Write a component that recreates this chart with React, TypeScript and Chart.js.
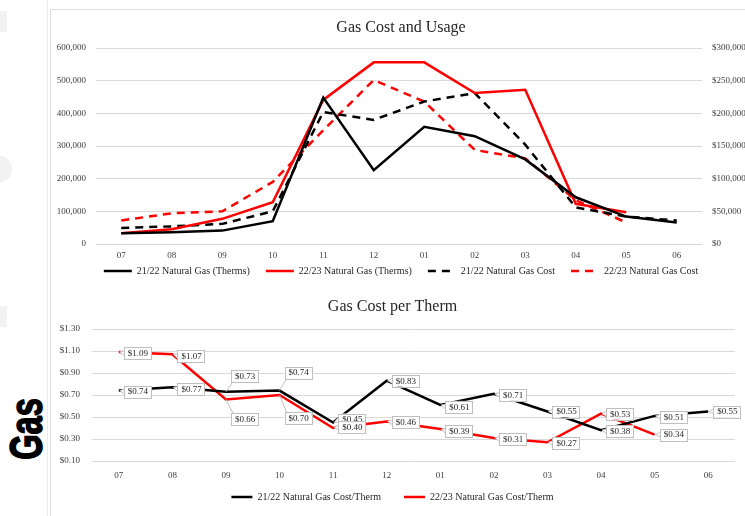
import React, { useEffect, useRef } from 'react';
import { Chart, registerables } from 'chart.js';
Chart.register(...registerables);

// ---------- data ----------
const months = ['07', '08', '09', '10', '11', '12', '01', '02', '03', '04', '05', '06'];

const therms2122 = [33000, 36000, 41000, 70000, 448000, 226000, 359000, 330000, 259000, 143000, 84000, 66000];
const therms2223 = [33000, 45000, 77000, 128000, 441000, 556000, 556000, 462000, 472000, 123000, 97000, null];
const cost2122 = [24600, 27000, 30800, 50000, 202000, 190000, 218000, 231000, 152000, 56000, 42000, 36000];
const cost2223 = [36000, 47000, 50000, 95000, 174000, 251000, 218000, 144000, 131000, 67000, 33000, null];

const perTherm2122 = [0.74, 0.77, 0.73, 0.74, 0.45, 0.83, 0.61, 0.71, 0.55, 0.38, 0.51, 0.55];
const perTherm2223 = [1.09, 1.07, 0.66, 0.70, 0.40, 0.46, 0.39, 0.31, 0.27, 0.53, 0.34, null];

const usageTicks = [0, 100000, 200000, 300000, 400000, 500000, 600000];
const costTicks = [0, 50000, 100000, 150000, 200000, 250000, 300000];
const perThermTicks = [0.1, 0.3, 0.5, 0.7, 0.9, 1.1, 1.3];

// label placement (vertical nudges for the data-label boxes, px)
const labelNudge2122 = [1, 2, -16, -18, -3, 0, 2, 1, 0, 1, 1, 0];
const labelNudge2223 = [1, 2, 20, 23, -1, 1, 2, 1, 1, 0, 0, 0];

// ---------- styles ----------
const SERIF = '"Liberation Serif", "Times New Roman", serif';
const TICK_COLOR = '#404040';
const TEXT_COLOR = '#262626';
const GRID = '#d9d9d9';

function legendGen(lineW: number) {
  return (chart: any) => {
    const items = (Chart.defaults.plugins.legend.labels as any).generateLabels(chart);
    items.forEach((it: any) => {
      const ds: any = chart.data.datasets[it.datasetIndex];
      it.lineWidth = lineW;
      it.lineDash = ds.borderDash || [];
      it.strokeStyle = ds.borderColor;
      it.fillStyle = ds.borderColor;
      it.pointStyle = 'line';
      it.fontColor = TEXT_COLOR;
    });
    return items;
  };
}

function TopChart() {
  const ref = useRef<HTMLCanvasElement>(null);
  useEffect(() => {
    const chart = new Chart(ref.current as HTMLCanvasElement, {
      type: 'line',
      data: {
        labels: months,
        datasets: [
          { label: '21/22 Natural Gas (Therms)', data: therms2122, borderColor: '#000000', backgroundColor: '#000000', borderWidth: 2.5, pointRadius: 0, tension: 0, yAxisID: 'y' },
          { label: '22/23 Natural Gas (Therms)', data: therms2223, borderColor: '#ff0000', backgroundColor: '#ff0000', borderWidth: 2.5, pointRadius: 0, tension: 0, yAxisID: 'y' },
          { label: '21/22 Natural Gas Cost', data: cost2122, borderColor: '#000000', backgroundColor: '#000000', borderWidth: 2.5, borderDash: [8, 6], pointRadius: 0, tension: 0, yAxisID: 'y1' },
          { label: '22/23 Natural Gas Cost', data: cost2223, borderColor: '#ff0000', backgroundColor: '#ff0000', borderWidth: 2.5, borderDash: [8, 6], pointRadius: 0, tension: 0, yAxisID: 'y1' },
        ] as any,
      },
      options: {
        responsive: false,
        animation: false,
        layout: { padding: { top: 0, bottom: 4, left: 0, right: 0 } },
        plugins: {
          title: {
            display: true,
            text: 'Gas Cost and Usage',
            color: TEXT_COLOR,
            font: { family: SERIF, size: 16, weight: 'normal' },
            padding: { top: 9.4, bottom: 10.4 },
          },
          legend: {
            position: 'bottom',
            labels: {
              usePointStyle: true,
              pointStyle: 'line',
              pointStyleWidth: 28,
              boxWidth: 28,
              padding: 16,
              color: TEXT_COLOR,
              font: { family: SERIF, size: 10 },
              generateLabels: legendGen(2.5),
            },
          },
          tooltip: { enabled: false },
        },
        scales: {
          x: {
            offset: true,
            grid: { display: false, drawTicks: false, offset: true },
            border: { display: false },
            ticks: { mirror: true, padding: -17.4, color: TICK_COLOR, font: { family: SERIF, size: 9 } },
            afterFit: (s: any) => { s.height = 6; },
          },
          y: {
            position: 'left',
            min: usageTicks[0],
            max: usageTicks[usageTicks.length - 1],
            afterBuildTicks: (s: any) => { s.ticks = usageTicks.map((v) => ({ value: v })); },
            ticks: {
              padding: 10,
              color: TICK_COLOR,
              font: { family: SERIF, size: 9 },
              callback: (v: any) => Number(v).toLocaleString('en-US'),
            },
            grid: { color: GRID, drawTicks: false },
            border: { display: false },
            afterFit: (s: any) => { s.width = 46; },
          },
          y1: {
            position: 'right',
            min: costTicks[0],
            max: costTicks[costTicks.length - 1],
            afterBuildTicks: (s: any) => { s.ticks = costTicks.map((v) => ({ value: v })); },
            ticks: {
              padding: 10,
              color: TICK_COLOR,
              font: { family: SERIF, size: 9 },
              callback: (v: any) => '$' + Number(v).toLocaleString('en-US'),
            },
            grid: { drawOnChartArea: false, drawTicks: false },
            border: { display: false },
            afterFit: (s: any) => { s.width = 50; },
          },
        },
      } as any,
    });
    return () => chart.destroy();
  }, []);
  return <canvas ref={ref} width={702} height={281} style={{ position: 'absolute', left: 50, top: 9 }} />;
}

const boxLabelPlugin = {
  id: 'boxLabels',
  afterDatasetsDraw(chart: any) {
    const ctx = chart.ctx as CanvasRenderingContext2D;
    const nudges = [labelNudge2122, labelNudge2223];
    ctx.save();
    ctx.font = '9px ' + SERIF;
    ctx.textBaseline = 'middle';
    ctx.textAlign = 'center';
    chart.data.datasets.forEach((ds: any, di: number) => {
      const meta = chart.getDatasetMeta(di);
      meta.data.forEach((pt: any, i: number) => {
        const v = ds.data[i];
        if (v == null) return;
        const text = '$' + Number(v).toFixed(2);
        const tw = ctx.measureText(text).width;
        const bw = tw + 7;
        const bh = 12;
        const px = pt.x;
        const py = pt.y;
        const left = px + 5;
        const cy = py + nudges[di][i];
        const top = cy - bh / 2;
        ctx.strokeStyle = '#bfbfbf';
        ctx.lineWidth = 1;
        ctx.fillStyle = '#ffffff';
        if (Math.abs(nudges[di][i]) > 6) {
          const ey = Math.min(Math.max(py, top), top + bh);
          ctx.beginPath();
          ctx.moveTo(px, py);
          ctx.lineTo(left + 2, ey);
          ctx.stroke();
        } else {
          ctx.beginPath();
          ctx.moveTo(left + 0.5, cy - 2.5);
          ctx.lineTo(px + 1, py);
          ctx.lineTo(left + 0.5, cy + 2.5);
          ctx.closePath();
          ctx.fill();
          ctx.stroke();
        }
        ctx.fillRect(left, top, bw, bh);
        ctx.strokeRect(Math.round(left) + 0.5, Math.round(top) + 0.5, Math.round(bw), bh);
        ctx.fillStyle = '#262626';
        ctx.fillText(text, left + bw / 2 + 0.5, cy + 0.5);
      });
    });
    ctx.restore();
  },
};

function BottomChart() {
  const ref = useRef<HTMLCanvasElement>(null);
  useEffect(() => {
    const chart = new Chart(ref.current as HTMLCanvasElement, {
      type: 'line',
      data: {
        labels: months,
        datasets: [
          { label: '21/22 Natural Gas Cost/Therm', data: perTherm2122, borderColor: '#000000', backgroundColor: '#000000', borderWidth: 2.5, pointRadius: 0, tension: 0 },
          { label: '22/23 Natural Gas Cost/Therm', data: perTherm2223, borderColor: '#ff0000', backgroundColor: '#ff0000', borderWidth: 2.5, pointRadius: 0, tension: 0 },
        ] as any,
      },
      options: {
        responsive: false,
        animation: false,
        layout: { padding: { top: 0, bottom: 4, left: 0, right: 13 } },
        plugins: {
          title: {
            display: true,
            text: 'Gas Cost per Therm',
            color: TEXT_COLOR,
            font: { family: SERIF, size: 16, weight: 'normal' },
            padding: { top: 7.4, bottom: 12.4 },
          },
          legend: {
            position: 'bottom',
            labels: {
              usePointStyle: true,
              pointStyle: 'line',
              pointStyleWidth: 21,
              boxWidth: 21,
              padding: 23,
              color: TEXT_COLOR,
              font: { family: SERIF, size: 10 },
              generateLabels: legendGen(2.5),
            },
          },
          tooltip: { enabled: false },
        },
        scales: {
          x: {
            offset: true,
            grid: { display: false, drawTicks: false, offset: true },
            border: { display: false },
            ticks: { mirror: true, padding: -20.4, color: TICK_COLOR, font: { family: SERIF, size: 9 } },
            afterFit: (s: any) => { s.height = 8; },
          },
          y: {
            position: 'left',
            min: perThermTicks[0],
            max: perThermTicks[perThermTicks.length - 1],
            afterBuildTicks: (s: any) => { s.ticks = perThermTicks.map((v) => ({ value: v })); },
            ticks: {
              padding: 12,
              color: TICK_COLOR,
              font: { family: SERIF, size: 9 },
              callback: (v: any) => '$' + Number(v).toFixed(2),
            },
            grid: { color: GRID, drawTicks: false },
            border: { display: false },
            afterFit: (s: any) => { s.width = 42; },
          },
        },
      } as any,
      plugins: [boxLabelPlugin],
    });
    return () => chart.destroy();
  }, []);
  return <canvas ref={ref} width={698} height={226} style={{ position: 'absolute', left: 50, top: 290 }} />;
}

export default function App() {
  return (
    <div style={{ position: 'fixed', left: 0, top: 0, width: 745, height: 516, background: '#ffffff', overflow: 'hidden' }}>
      {/* side decorations */}
      <div style={{ position: 'absolute', left: 0, top: 11, width: 7, height: 21, background: '#f2f2f2' }} />
      <div style={{ position: 'absolute', left: -16, top: 155, width: 28, height: 28, borderRadius: '50%', background: '#f2f2f2' }} />
      <div style={{ position: 'absolute', left: 0, top: 306, width: 7, height: 21, background: '#f2f2f2' }} />
      <div style={{ position: 'absolute', left: 47, top: 0, width: 1, height: 516, background: '#ececec' }} />
      <div style={{ position: 'absolute', left: 50, top: 9, width: 1, height: 507, background: '#dedede' }} />
      <div style={{ position: 'absolute', left: 50, top: 9, width: 695, height: 1, background: '#dedede' }} />
      <div
        style={{
          position: 'absolute',
          left: 26,
          top: 429,
          transform: 'translate(-50%, -50%) rotate(-90deg) scaleX(0.71)',
          fontFamily: '"Liberation Sans", Arial, sans-serif',
          fontWeight: 900,
          fontSize: 46,
          lineHeight: 1,
          color: '#000000',
          WebkitTextStroke: '1.5px #000000',
          whiteSpace: 'nowrap',
        }}
      >
        Gas
      </div>
      <TopChart />
      <BottomChart />
    </div>
  );
}
